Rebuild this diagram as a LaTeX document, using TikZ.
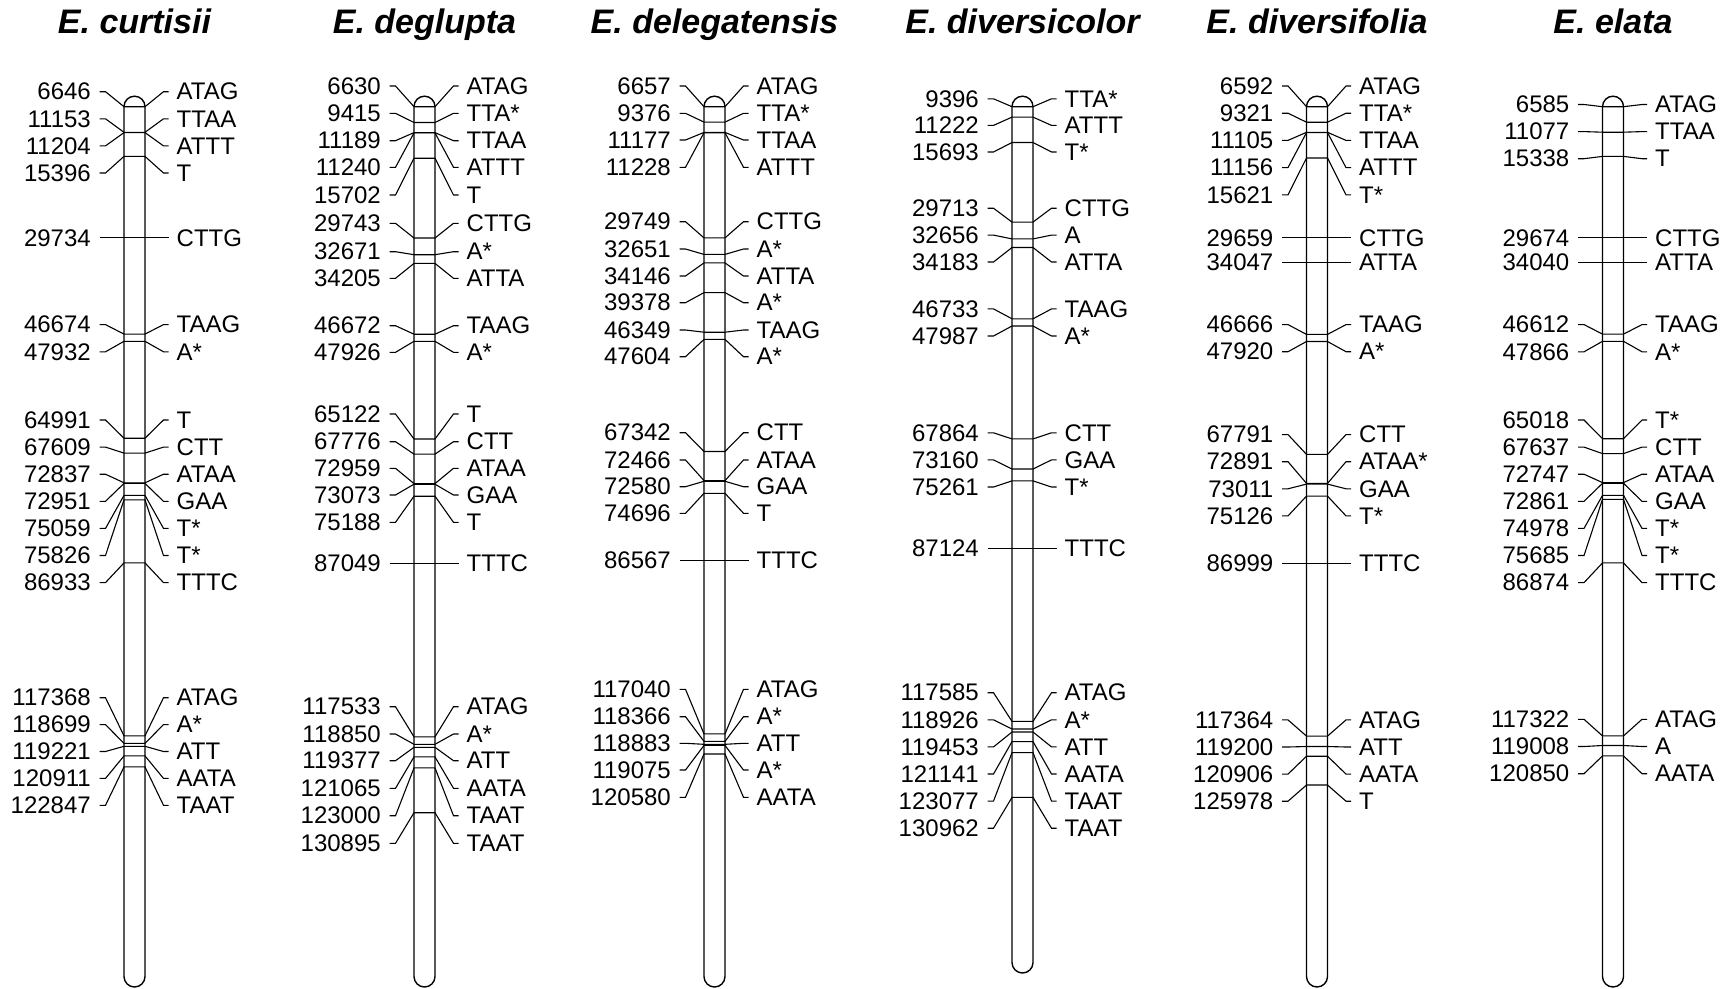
\documentclass[tikz,border=0pt]{standalone}
\usepackage{fontspec}
\setmainfont{Liberation Sans}
\usepackage{xcolor}
\usepackage{tikz}

\begin{document}
\begin{tikzpicture}[x = 1pt,
                    y = -1pt,
                    color = {black}]

  \useasboundingbox (0,0) rectangle (1734,988);

  % STYLES
  \definecolor{edgecolor_chr}{rgb}{ 0,0,0 }
  \tikzstyle{barstyle_chr} = [draw=edgecolor_chr, fill=white, line width=1.4pt, rounded corners=10.5pt]
  \tikzstyle{linkstyle_chr} = [draw=edgecolor_chr, line width=1.1pt, line cap=butt, line join=miter]
  \tikzstyle{numstyle_chr} = [anchor=east, inner sep=0pt, font=\fontsize{24}{24}\selectfont]
  \tikzstyle{genestyle_chr} = [anchor=west, inner sep=0pt, font=\fontsize{24}{24}\selectfont]
  \tikzstyle{titlestyle_chr} = [anchor=base, inner sep=0pt, font=\fontsize{34}{34}\selectfont\bfseries\itshape]


  % BARS
  \draw[barstyle_chr] (124,96.2) rectangle (145,987);
  \draw[barstyle_chr] (414,96.2) rectangle (435,987);
  \draw[barstyle_chr] (704,96.2) rectangle (725,987);
  \draw[barstyle_chr] (1012,96.2) rectangle (1033,973);
  \draw[barstyle_chr] (1306.5,96.2) rectangle (1327.5,987);
  \draw[barstyle_chr] (1602.5,96.2) rectangle (1623.5,987);


  % TITLES
  \node[titlestyle_chr] (t_curtisii) at (134.5,33.5) {E. curtisii};
  \node[titlestyle_chr] (t_deglupta) at (424.5,33.5) {E. deglupta};
  \node[titlestyle_chr] (t_delegatensis) at (714.5,33.5) {E. delegatensis};
  \node[titlestyle_chr] (t_diversicolor) at (1022.5,33.5) {E. diversicolor};
  \node[titlestyle_chr] (t_diversifolia) at (1317,33.5) {E. diversifolia};
  \node[titlestyle_chr] (t_elata) at (1613,33.5) {E. elata};


  % LABELS and LINKS: E. curtisii
  \node[numstyle_chr] (n0_curtisii) at (91,91.7) {6646};
  \node[genestyle_chr] (g0_curtisii) at (176.5,91.7) {ATAG};
  \draw[linkstyle_chr] (n0_curtisii.east) ++(8.5,0) -- ++(6,0) -- (124,106.7) -- (145,106.7) -- ([xshift=-13pt]g0_curtisii.west) -- ([xshift=-8pt]g0_curtisii.west);
  \node[numstyle_chr] (n1_curtisii) at (91,118.8) {11153};
  \node[genestyle_chr] (g1_curtisii) at (176.5,118.8) {TTAA};
  \draw[linkstyle_chr] (n1_curtisii.east) ++(8.5,0) -- ++(6,0) -- (124,132.3) -- (145,132.3) -- ([xshift=-13pt]g1_curtisii.west) -- ([xshift=-8pt]g1_curtisii.west);
  \node[numstyle_chr] (n2_curtisii) at (91,145.9) {11204};
  \node[genestyle_chr] (g2_curtisii) at (176.5,145.9) {ATTT};
  \draw[linkstyle_chr] (n2_curtisii.east) ++(8.5,0) -- ++(6,0) -- (124,132.6) -- (145,132.6) -- ([xshift=-13pt]g2_curtisii.west) -- ([xshift=-8pt]g2_curtisii.west);
  \node[numstyle_chr] (n3_curtisii) at (91,173.0) {15396};
  \node[genestyle_chr] (g3_curtisii) at (176.5,173.0) {T};
  \draw[linkstyle_chr] (n3_curtisii.east) ++(8.5,0) -- ++(6,0) -- (124,156.4) -- (145,156.4) -- ([xshift=-13pt]g3_curtisii.west) -- ([xshift=-8pt]g3_curtisii.west);
  \node[numstyle_chr] (n4_curtisii) at (91,237.9) {29734};
  \node[genestyle_chr] (g4_curtisii) at (176.5,237.9) {CTTG};
  \draw[linkstyle_chr] (n4_curtisii.east) ++(8.5,0) -- ++(6,0) -- (124,237.9) -- (145,237.9) -- ([xshift=-13pt]g4_curtisii.west) -- ([xshift=-8pt]g4_curtisii.west);
  \node[numstyle_chr] (n5_curtisii) at (91,324.6) {46674};
  \node[genestyle_chr] (g5_curtisii) at (176.5,324.6) {TAAG};
  \draw[linkstyle_chr] (n5_curtisii.east) ++(8.5,0) -- ++(6,0) -- (124,334.1) -- (145,334.1) -- ([xshift=-13pt]g5_curtisii.west) -- ([xshift=-8pt]g5_curtisii.west);
  \node[numstyle_chr] (n6_curtisii) at (91,351.8) {47932};
  \node[genestyle_chr] (g6_curtisii) at (176.5,351.8) {A*};
  \draw[linkstyle_chr] (n6_curtisii.east) ++(8.5,0) -- ++(6,0) -- (124,341.3) -- (145,341.3) -- ([xshift=-13pt]g6_curtisii.west) -- ([xshift=-8pt]g6_curtisii.west);
  \node[numstyle_chr] (n7_curtisii) at (91,420.0) {64991};
  \node[genestyle_chr] (g7_curtisii) at (176.5,420.0) {T};
  \draw[linkstyle_chr] (n7_curtisii.east) ++(8.5,0) -- ++(6,0) -- (124,438.2) -- (145,438.2) -- ([xshift=-13pt]g7_curtisii.west) -- ([xshift=-8pt]g7_curtisii.west);
  \node[numstyle_chr] (n8_curtisii) at (91,447.1) {67609};
  \node[genestyle_chr] (g8_curtisii) at (176.5,447.1) {CTT};
  \draw[linkstyle_chr] (n8_curtisii.east) ++(8.5,0) -- ++(6,0) -- (124,453.1) -- (145,453.1) -- ([xshift=-13pt]g8_curtisii.west) -- ([xshift=-8pt]g8_curtisii.west);
  \node[numstyle_chr] (n9_curtisii) at (91,474.2) {72837};
  \node[genestyle_chr] (g9_curtisii) at (176.5,474.2) {ATAA};
  \draw[linkstyle_chr] (n9_curtisii.east) ++(8.5,0) -- ++(6,0) -- (124,482.8) -- (145,482.8) -- ([xshift=-13pt]g9_curtisii.west) -- ([xshift=-8pt]g9_curtisii.west);
  \node[numstyle_chr] (n10_curtisii) at (91,501.3) {72951};
  \node[genestyle_chr] (g10_curtisii) at (176.5,501.3) {GAA};
  \draw[linkstyle_chr] (n10_curtisii.east) ++(8.5,0) -- ++(6,0) -- (124,483.4) -- (145,483.4) -- ([xshift=-13pt]g10_curtisii.west) -- ([xshift=-8pt]g10_curtisii.west);
  \node[numstyle_chr] (n11_curtisii) at (91,528.4) {75059};
  \node[genestyle_chr] (g11_curtisii) at (176.5,528.4) {T*};
  \draw[linkstyle_chr] (n11_curtisii.east) ++(8.5,0) -- ++(6,0) -- (124,495.4) -- (145,495.4) -- ([xshift=-13pt]g11_curtisii.west) -- ([xshift=-8pt]g11_curtisii.west);
  \node[numstyle_chr] (n12_curtisii) at (91,555.5) {75826};
  \node[genestyle_chr] (g12_curtisii) at (176.5,555.5) {T*};
  \draw[linkstyle_chr] (n12_curtisii.east) ++(8.5,0) -- ++(6,0) -- (124,499.8) -- (145,499.8) -- ([xshift=-13pt]g12_curtisii.west) -- ([xshift=-8pt]g12_curtisii.west);
  \node[numstyle_chr] (n13_curtisii) at (91,582.6) {86933};
  \node[genestyle_chr] (g13_curtisii) at (176.5,582.6) {TTTC};
  \draw[linkstyle_chr] (n13_curtisii.east) ++(8.5,0) -- ++(6,0) -- (124,562.9) -- (145,562.9) -- ([xshift=-13pt]g13_curtisii.west) -- ([xshift=-8pt]g13_curtisii.west);
  \node[numstyle_chr] (n14_curtisii) at (91,697.7) {117368};
  \node[genestyle_chr] (g14_curtisii) at (176.5,697.7) {ATAG};
  \draw[linkstyle_chr] (n14_curtisii.east) ++(8.5,0) -- ++(6,0) -- (124,735.8) -- (145,735.8) -- ([xshift=-13pt]g14_curtisii.west) -- ([xshift=-8pt]g14_curtisii.west);
  \node[numstyle_chr] (n15_curtisii) at (91,724.6) {118699};
  \node[genestyle_chr] (g15_curtisii) at (176.5,724.6) {A*};
  \draw[linkstyle_chr] (n15_curtisii.east) ++(8.5,0) -- ++(6,0) -- (124,743.4) -- (145,743.4) -- ([xshift=-13pt]g15_curtisii.west) -- ([xshift=-8pt]g15_curtisii.west);
  \node[numstyle_chr] (n16_curtisii) at (91,751.5) {119221};
  \node[genestyle_chr] (g16_curtisii) at (176.5,751.5) {ATT};
  \draw[linkstyle_chr] (n16_curtisii.east) ++(8.5,0) -- ++(6,0) -- (124,746.3) -- (145,746.3) -- ([xshift=-13pt]g16_curtisii.west) -- ([xshift=-8pt]g16_curtisii.west);
  \node[numstyle_chr] (n17_curtisii) at (91,778.4) {120911};
  \node[genestyle_chr] (g17_curtisii) at (176.5,778.4) {AATA};
  \draw[linkstyle_chr] (n17_curtisii.east) ++(8.5,0) -- ++(6,0) -- (124,755.9) -- (145,755.9) -- ([xshift=-13pt]g17_curtisii.west) -- ([xshift=-8pt]g17_curtisii.west);
  \node[numstyle_chr] (n18_curtisii) at (91,805.3) {122847};
  \node[genestyle_chr] (g18_curtisii) at (176.5,805.3) {TAAT};
  \draw[linkstyle_chr] (n18_curtisii.east) ++(8.5,0) -- ++(6,0) -- (124,766.9) -- (145,766.9) -- ([xshift=-13pt]g18_curtisii.west) -- ([xshift=-8pt]g18_curtisii.west);


  % LABELS and LINKS: E. deglupta
  \node[numstyle_chr] (n0_deglupta) at (381,86.0) {6630};
  \node[genestyle_chr] (g0_deglupta) at (466.5,86.0) {ATAG};
  \draw[linkstyle_chr] (n0_deglupta.east) ++(8.5,0) -- ++(6,0) -- (414,106.7) -- (435,106.7) -- ([xshift=-13pt]g0_deglupta.west) -- ([xshift=-8pt]g0_deglupta.west);
  \node[numstyle_chr] (n1_deglupta) at (381,113.3) {9415};
  \node[genestyle_chr] (g1_deglupta) at (466.5,113.3) {TTA*};
  \draw[linkstyle_chr] (n1_deglupta.east) ++(8.5,0) -- ++(6,0) -- (414,122.5) -- (435,122.5) -- ([xshift=-13pt]g1_deglupta.west) -- ([xshift=-8pt]g1_deglupta.west);
  \node[numstyle_chr] (n2_deglupta) at (381,140.7) {11189};
  \node[genestyle_chr] (g2_deglupta) at (466.5,140.7) {TTAA};
  \draw[linkstyle_chr] (n2_deglupta.east) ++(8.5,0) -- ++(6,0) -- (414,132.6) -- (435,132.6) -- ([xshift=-13pt]g2_deglupta.west) -- ([xshift=-8pt]g2_deglupta.west);
  \node[numstyle_chr] (n3_deglupta) at (381,167.3) {11240};
  \node[genestyle_chr] (g3_deglupta) at (466.5,167.3) {ATTT};
  \draw[linkstyle_chr] (n3_deglupta.east) ++(8.5,0) -- ++(6,0) -- (414,132.9) -- (435,132.9) -- ([xshift=-13pt]g3_deglupta.west) -- ([xshift=-8pt]g3_deglupta.west);
  \node[numstyle_chr] (n4_deglupta) at (381,195.0) {15702};
  \node[genestyle_chr] (g4_deglupta) at (466.5,195.0) {T};
  \draw[linkstyle_chr] (n4_deglupta.east) ++(8.5,0) -- ++(6,0) -- (414,158.2) -- (435,158.2) -- ([xshift=-13pt]g4_deglupta.west) -- ([xshift=-8pt]g4_deglupta.west);
  \node[numstyle_chr] (n5_deglupta) at (381,223.3) {29743};
  \node[genestyle_chr] (g5_deglupta) at (466.5,223.3) {CTTG};
  \draw[linkstyle_chr] (n5_deglupta.east) ++(8.5,0) -- ++(6,0) -- (414,238.0) -- (435,238.0) -- ([xshift=-13pt]g5_deglupta.west) -- ([xshift=-8pt]g5_deglupta.west);
  \node[numstyle_chr] (n6_deglupta) at (381,251.7) {32671};
  \node[genestyle_chr] (g6_deglupta) at (466.5,251.7) {A*};
  \draw[linkstyle_chr] (n6_deglupta.east) ++(8.5,0) -- ++(6,0) -- (414,254.7) -- (435,254.7) -- ([xshift=-13pt]g6_deglupta.west) -- ([xshift=-8pt]g6_deglupta.west);
  \node[numstyle_chr] (n7_deglupta) at (381,278.3) {34205};
  \node[genestyle_chr] (g7_deglupta) at (466.5,278.3) {ATTA};
  \draw[linkstyle_chr] (n7_deglupta.east) ++(8.5,0) -- ++(6,0) -- (414,263.4) -- (435,263.4) -- ([xshift=-13pt]g7_deglupta.west) -- ([xshift=-8pt]g7_deglupta.west);
  \node[numstyle_chr] (n8_deglupta) at (381,325.7) {46672};
  \node[genestyle_chr] (g8_deglupta) at (466.5,325.7) {TAAG};
  \draw[linkstyle_chr] (n8_deglupta.east) ++(8.5,0) -- ++(6,0) -- (414,334.2) -- (435,334.2) -- ([xshift=-13pt]g8_deglupta.west) -- ([xshift=-8pt]g8_deglupta.west);
  \node[numstyle_chr] (n9_deglupta) at (381,352.3) {47926};
  \node[genestyle_chr] (g9_deglupta) at (466.5,352.3) {A*};
  \draw[linkstyle_chr] (n9_deglupta.east) ++(8.5,0) -- ++(6,0) -- (414,341.3) -- (435,341.3) -- ([xshift=-13pt]g9_deglupta.west) -- ([xshift=-8pt]g9_deglupta.west);
  \node[numstyle_chr] (n10_deglupta) at (381,414.0) {65122};
  \node[genestyle_chr] (g10_deglupta) at (466.5,414.0) {T};
  \draw[linkstyle_chr] (n10_deglupta.east) ++(8.5,0) -- ++(6,0) -- (414,439.0) -- (435,439.0) -- ([xshift=-13pt]g10_deglupta.west) -- ([xshift=-8pt]g10_deglupta.west);
  \node[numstyle_chr] (n11_deglupta) at (381,441.7) {67776};
  \node[genestyle_chr] (g11_deglupta) at (466.5,441.7) {CTT};
  \draw[linkstyle_chr] (n11_deglupta.east) ++(8.5,0) -- ++(6,0) -- (414,454.1) -- (435,454.1) -- ([xshift=-13pt]g11_deglupta.west) -- ([xshift=-8pt]g11_deglupta.west);
  \node[numstyle_chr] (n12_deglupta) at (381,468.3) {72959};
  \node[genestyle_chr] (g12_deglupta) at (466.5,468.3) {ATAA};
  \draw[linkstyle_chr] (n12_deglupta.east) ++(8.5,0) -- ++(6,0) -- (414,483.6) -- (435,483.6) -- ([xshift=-13pt]g12_deglupta.west) -- ([xshift=-8pt]g12_deglupta.west);
  \node[numstyle_chr] (n13_deglupta) at (381,495.0) {73073};
  \node[genestyle_chr] (g13_deglupta) at (466.5,495.0) {GAA};
  \draw[linkstyle_chr] (n13_deglupta.east) ++(8.5,0) -- ++(6,0) -- (414,484.2) -- (435,484.2) -- ([xshift=-13pt]g13_deglupta.west) -- ([xshift=-8pt]g13_deglupta.west);
  \node[numstyle_chr] (n14_deglupta) at (381,522.3) {75188};
  \node[genestyle_chr] (g14_deglupta) at (466.5,522.3) {T};
  \draw[linkstyle_chr] (n14_deglupta.east) ++(8.5,0) -- ++(6,0) -- (414,496.2) -- (435,496.2) -- ([xshift=-13pt]g14_deglupta.west) -- ([xshift=-8pt]g14_deglupta.west);
  \node[numstyle_chr] (n15_deglupta) at (381,563.6) {87049};
  \node[genestyle_chr] (g15_deglupta) at (466.5,563.6) {TTTC};
  \draw[linkstyle_chr] (n15_deglupta.east) ++(8.5,0) -- ++(6,0) -- (414,563.6) -- (435,563.6) -- ([xshift=-13pt]g15_deglupta.west) -- ([xshift=-8pt]g15_deglupta.west);
  \node[numstyle_chr] (n16_deglupta) at (381,706.7) {117533};
  \node[genestyle_chr] (g16_deglupta) at (466.5,706.7) {ATAG};
  \draw[linkstyle_chr] (n16_deglupta.east) ++(8.5,0) -- ++(6,0) -- (414,736.8) -- (435,736.8) -- ([xshift=-13pt]g16_deglupta.west) -- ([xshift=-8pt]g16_deglupta.west);
  \node[numstyle_chr] (n17_deglupta) at (381,734.0) {118850};
  \node[genestyle_chr] (g17_deglupta) at (466.5,734.0) {A*};
  \draw[linkstyle_chr] (n17_deglupta.east) ++(8.5,0) -- ++(6,0) -- (414,744.3) -- (435,744.3) -- ([xshift=-13pt]g17_deglupta.west) -- ([xshift=-8pt]g17_deglupta.west);
  \node[numstyle_chr] (n18_deglupta) at (381,760.7) {119377};
  \node[genestyle_chr] (g18_deglupta) at (466.5,760.7) {ATT};
  \draw[linkstyle_chr] (n18_deglupta.east) ++(8.5,0) -- ++(6,0) -- (414,747.3) -- (435,747.3) -- ([xshift=-13pt]g18_deglupta.west) -- ([xshift=-8pt]g18_deglupta.west);
  \node[numstyle_chr] (n19_deglupta) at (381,788.3) {121065};
  \node[genestyle_chr] (g19_deglupta) at (466.5,788.3) {AATA};
  \draw[linkstyle_chr] (n19_deglupta.east) ++(8.5,0) -- ++(6,0) -- (414,756.9) -- (435,756.9) -- ([xshift=-13pt]g19_deglupta.west) -- ([xshift=-8pt]g19_deglupta.west);
  \node[numstyle_chr] (n20_deglupta) at (381,815.7) {123000};
  \node[genestyle_chr] (g20_deglupta) at (466.5,815.7) {TAAT};
  \draw[linkstyle_chr] (n20_deglupta.east) ++(8.5,0) -- ++(6,0) -- (414,767.9) -- (435,767.9) -- ([xshift=-13pt]g20_deglupta.west) -- ([xshift=-8pt]g20_deglupta.west);
  \node[numstyle_chr] (n21_deglupta) at (381,843.3) {130895};
  \node[genestyle_chr] (g21_deglupta) at (466.5,843.3) {TAAT};
  \draw[linkstyle_chr] (n21_deglupta.east) ++(8.5,0) -- ++(6,0) -- (414,812.7) -- (435,812.7) -- ([xshift=-13pt]g21_deglupta.west) -- ([xshift=-8pt]g21_deglupta.west);


  % LABELS and LINKS: E. delegatensis
  \node[numstyle_chr] (n0_delegatensis) at (671,86.0) {6657};
  \node[genestyle_chr] (g0_delegatensis) at (756.5,86.0) {ATAG};
  \draw[linkstyle_chr] (n0_delegatensis.east) ++(8.5,0) -- ++(6,0) -- (704,106.7) -- (725,106.7) -- ([xshift=-13pt]g0_delegatensis.west) -- ([xshift=-8pt]g0_delegatensis.west);
  \node[numstyle_chr] (n1_delegatensis) at (671,113.3) {9376};
  \node[genestyle_chr] (g1_delegatensis) at (756.5,113.3) {TTA*};
  \draw[linkstyle_chr] (n1_delegatensis.east) ++(8.5,0) -- ++(6,0) -- (704,122.1) -- (725,122.1) -- ([xshift=-13pt]g1_delegatensis.west) -- ([xshift=-8pt]g1_delegatensis.west);
  \node[numstyle_chr] (n2_delegatensis) at (671,140.0) {11177};
  \node[genestyle_chr] (g2_delegatensis) at (756.5,140.0) {TTAA};
  \draw[linkstyle_chr] (n2_delegatensis.east) ++(8.5,0) -- ++(6,0) -- (704,132.4) -- (725,132.4) -- ([xshift=-13pt]g2_delegatensis.west) -- ([xshift=-8pt]g2_delegatensis.west);
  \node[numstyle_chr] (n3_delegatensis) at (671,167.3) {11228};
  \node[genestyle_chr] (g3_delegatensis) at (756.5,167.3) {ATTT};
  \draw[linkstyle_chr] (n3_delegatensis.east) ++(8.5,0) -- ++(6,0) -- (704,132.7) -- (725,132.7) -- ([xshift=-13pt]g3_delegatensis.west) -- ([xshift=-8pt]g3_delegatensis.west);
  \node[numstyle_chr] (n4_delegatensis) at (671,221.7) {29749};
  \node[genestyle_chr] (g4_delegatensis) at (756.5,221.7) {CTTG};
  \draw[linkstyle_chr] (n4_delegatensis.east) ++(8.5,0) -- ++(6,0) -- (704,237.9) -- (725,237.9) -- ([xshift=-13pt]g4_delegatensis.west) -- ([xshift=-8pt]g4_delegatensis.west);
  \node[numstyle_chr] (n5_delegatensis) at (671,249.0) {32651};
  \node[genestyle_chr] (g5_delegatensis) at (756.5,249.0) {A*};
  \draw[linkstyle_chr] (n5_delegatensis.east) ++(8.5,0) -- ++(6,0) -- (704,254.4) -- (725,254.4) -- ([xshift=-13pt]g5_delegatensis.west) -- ([xshift=-8pt]g5_delegatensis.west);
  \node[numstyle_chr] (n6_delegatensis) at (671,276.0) {34146};
  \node[genestyle_chr] (g6_delegatensis) at (756.5,276.0) {ATTA};
  \draw[linkstyle_chr] (n6_delegatensis.east) ++(8.5,0) -- ++(6,0) -- (704,262.9) -- (725,262.9) -- ([xshift=-13pt]g6_delegatensis.west) -- ([xshift=-8pt]g6_delegatensis.west);
  \node[numstyle_chr] (n7_delegatensis) at (671,302.7) {39378};
  \node[genestyle_chr] (g7_delegatensis) at (756.5,302.7) {A*};
  \draw[linkstyle_chr] (n7_delegatensis.east) ++(8.5,0) -- ++(6,0) -- (704,292.6) -- (725,292.6) -- ([xshift=-13pt]g7_delegatensis.west) -- ([xshift=-8pt]g7_delegatensis.west);
  \node[numstyle_chr] (n8_delegatensis) at (671,330.0) {46349};
  \node[genestyle_chr] (g8_delegatensis) at (756.5,330.0) {TAAG};
  \draw[linkstyle_chr] (n8_delegatensis.east) ++(8.5,0) -- ++(6,0) -- (704,332.2) -- (725,332.2) -- ([xshift=-13pt]g8_delegatensis.west) -- ([xshift=-8pt]g8_delegatensis.west);
  \node[numstyle_chr] (n9_delegatensis) at (671,356.7) {47604};
  \node[genestyle_chr] (g9_delegatensis) at (756.5,356.7) {A*};
  \draw[linkstyle_chr] (n9_delegatensis.east) ++(8.5,0) -- ++(6,0) -- (704,339.4) -- (725,339.4) -- ([xshift=-13pt]g9_delegatensis.west) -- ([xshift=-8pt]g9_delegatensis.west);
  \node[numstyle_chr] (n10_delegatensis) at (671,432.7) {67342};
  \node[genestyle_chr] (g10_delegatensis) at (756.5,432.7) {CTT};
  \draw[linkstyle_chr] (n10_delegatensis.east) ++(8.5,0) -- ++(6,0) -- (704,451.5) -- (725,451.5) -- ([xshift=-13pt]g10_delegatensis.west) -- ([xshift=-8pt]g10_delegatensis.west);
  \node[numstyle_chr] (n11_delegatensis) at (671,460.0) {72466};
  \node[genestyle_chr] (g11_delegatensis) at (756.5,460.0) {ATAA};
  \draw[linkstyle_chr] (n11_delegatensis.east) ++(8.5,0) -- ++(6,0) -- (704,480.6) -- (725,480.6) -- ([xshift=-13pt]g11_delegatensis.west) -- ([xshift=-8pt]g11_delegatensis.west);
  \node[numstyle_chr] (n12_delegatensis) at (671,486.7) {72580};
  \node[genestyle_chr] (g12_delegatensis) at (756.5,486.7) {GAA};
  \draw[linkstyle_chr] (n12_delegatensis.east) ++(8.5,0) -- ++(6,0) -- (704,481.3) -- (725,481.3) -- ([xshift=-13pt]g12_delegatensis.west) -- ([xshift=-8pt]g12_delegatensis.west);
  \node[numstyle_chr] (n13_delegatensis) at (671,513.3) {74696};
  \node[genestyle_chr] (g13_delegatensis) at (756.5,513.3) {T};
  \draw[linkstyle_chr] (n13_delegatensis.east) ++(8.5,0) -- ++(6,0) -- (704,493.3) -- (725,493.3) -- ([xshift=-13pt]g13_delegatensis.west) -- ([xshift=-8pt]g13_delegatensis.west);
  \node[numstyle_chr] (n14_delegatensis) at (671,560.7) {86567};
  \node[genestyle_chr] (g14_delegatensis) at (756.5,560.7) {TTTC};
  \draw[linkstyle_chr] (n14_delegatensis.east) ++(8.5,0) -- ++(6,0) -- (704,560.7) -- (725,560.7) -- ([xshift=-13pt]g14_delegatensis.west) -- ([xshift=-8pt]g14_delegatensis.west);
  \node[numstyle_chr] (n15_delegatensis) at (671,689.3) {117040};
  \node[genestyle_chr] (g15_delegatensis) at (756.5,689.3) {ATAG};
  \draw[linkstyle_chr] (n15_delegatensis.east) ++(8.5,0) -- ++(6,0) -- (704,733.9) -- (725,733.9) -- ([xshift=-13pt]g15_delegatensis.west) -- ([xshift=-8pt]g15_delegatensis.west);
  \node[numstyle_chr] (n16_delegatensis) at (671,716.7) {118366};
  \node[genestyle_chr] (g16_delegatensis) at (756.5,716.7) {A*};
  \draw[linkstyle_chr] (n16_delegatensis.east) ++(8.5,0) -- ++(6,0) -- (704,741.4) -- (725,741.4) -- ([xshift=-13pt]g16_delegatensis.west) -- ([xshift=-8pt]g16_delegatensis.west);
  \node[numstyle_chr] (n17_delegatensis) at (671,743.3) {118883};
  \node[genestyle_chr] (g17_delegatensis) at (756.5,743.3) {ATT};
  \draw[linkstyle_chr] (n17_delegatensis.east) ++(8.5,0) -- ++(6,0) -- (704,744.3) -- (725,744.3) -- ([xshift=-13pt]g17_delegatensis.west) -- ([xshift=-8pt]g17_delegatensis.west);
  \node[numstyle_chr] (n18_delegatensis) at (671,770.0) {119075};
  \node[genestyle_chr] (g18_delegatensis) at (756.5,770.0) {A*};
  \draw[linkstyle_chr] (n18_delegatensis.east) ++(8.5,0) -- ++(6,0) -- (704,745.4) -- (725,745.4) -- ([xshift=-13pt]g18_delegatensis.west) -- ([xshift=-8pt]g18_delegatensis.west);
  \node[numstyle_chr] (n19_delegatensis) at (671,797.3) {120580};
  \node[genestyle_chr] (g19_delegatensis) at (756.5,797.3) {AATA};
  \draw[linkstyle_chr] (n19_delegatensis.east) ++(8.5,0) -- ++(6,0) -- (704,754.0) -- (725,754.0) -- ([xshift=-13pt]g19_delegatensis.west) -- ([xshift=-8pt]g19_delegatensis.west);


  % LABELS and LINKS: E. diversicolor
  \node[numstyle_chr] (n0_diversicolor) at (979,98.8) {9396};
  \node[genestyle_chr] (g0_diversicolor) at (1064.5,98.8) {TTA*};
  \draw[linkstyle_chr] (n0_diversicolor.east) ++(8.5,0) -- ++(6,0) -- (1012,106.7) -- (1033,106.7) -- ([xshift=-13pt]g0_diversicolor.west) -- ([xshift=-8pt]g0_diversicolor.west);
  \node[numstyle_chr] (n1_diversicolor) at (979,125.4) {11222};
  \node[genestyle_chr] (g1_diversicolor) at (1064.5,125.4) {ATTT};
  \draw[linkstyle_chr] (n1_diversicolor.east) ++(8.5,0) -- ++(6,0) -- (1012,117.1) -- (1033,117.1) -- ([xshift=-13pt]g1_diversicolor.west) -- ([xshift=-8pt]g1_diversicolor.west);
  \node[numstyle_chr] (n2_diversicolor) at (979,152.0) {15693};
  \node[genestyle_chr] (g2_diversicolor) at (1064.5,152.0) {T*};
  \draw[linkstyle_chr] (n2_diversicolor.east) ++(8.5,0) -- ++(6,0) -- (1012,142.5) -- (1033,142.5) -- ([xshift=-13pt]g2_diversicolor.west) -- ([xshift=-8pt]g2_diversicolor.west);
  \node[numstyle_chr] (n3_diversicolor) at (979,208.2) {29713};
  \node[genestyle_chr] (g3_diversicolor) at (1064.5,208.2) {CTTG};
  \draw[linkstyle_chr] (n3_diversicolor.east) ++(8.5,0) -- ++(6,0) -- (1012,222.1) -- (1033,222.1) -- ([xshift=-13pt]g3_diversicolor.west) -- ([xshift=-8pt]g3_diversicolor.west);
  \node[numstyle_chr] (n4_diversicolor) at (979,235.1) {32656};
  \node[genestyle_chr] (g4_diversicolor) at (1064.5,235.1) {A};
  \draw[linkstyle_chr] (n4_diversicolor.east) ++(8.5,0) -- ++(6,0) -- (1012,238.9) -- (1033,238.9) -- ([xshift=-13pt]g4_diversicolor.west) -- ([xshift=-8pt]g4_diversicolor.west);
  \node[numstyle_chr] (n5_diversicolor) at (979,262.0) {34183};
  \node[genestyle_chr] (g5_diversicolor) at (1064.5,262.0) {ATTA};
  \draw[linkstyle_chr] (n5_diversicolor.east) ++(8.5,0) -- ++(6,0) -- (1012,247.5) -- (1033,247.5) -- ([xshift=-13pt]g5_diversicolor.west) -- ([xshift=-8pt]g5_diversicolor.west);
  \node[numstyle_chr] (n6_diversicolor) at (979,308.9) {46733};
  \node[genestyle_chr] (g6_diversicolor) at (1064.5,308.9) {TAAG};
  \draw[linkstyle_chr] (n6_diversicolor.east) ++(8.5,0) -- ++(6,0) -- (1012,318.8) -- (1033,318.8) -- ([xshift=-13pt]g6_diversicolor.west) -- ([xshift=-8pt]g6_diversicolor.west);
  \node[numstyle_chr] (n7_diversicolor) at (979,336.0) {47987};
  \node[genestyle_chr] (g7_diversicolor) at (1064.5,336.0) {A*};
  \draw[linkstyle_chr] (n7_diversicolor.east) ++(8.5,0) -- ++(6,0) -- (1012,326.0) -- (1033,326.0) -- ([xshift=-13pt]g7_diversicolor.west) -- ([xshift=-8pt]g7_diversicolor.west);
  \node[numstyle_chr] (n8_diversicolor) at (979,432.8) {67864};
  \node[genestyle_chr] (g8_diversicolor) at (1064.5,432.8) {CTT};
  \draw[linkstyle_chr] (n8_diversicolor.east) ++(8.5,0) -- ++(6,0) -- (1012,438.9) -- (1033,438.9) -- ([xshift=-13pt]g8_diversicolor.west) -- ([xshift=-8pt]g8_diversicolor.west);
  \node[numstyle_chr] (n9_diversicolor) at (979,459.9) {73160};
  \node[genestyle_chr] (g9_diversicolor) at (1064.5,459.9) {GAA};
  \draw[linkstyle_chr] (n9_diversicolor.east) ++(8.5,0) -- ++(6,0) -- (1012,469.0) -- (1033,469.0) -- ([xshift=-13pt]g9_diversicolor.west) -- ([xshift=-8pt]g9_diversicolor.west);
  \node[numstyle_chr] (n10_diversicolor) at (979,487.0) {75261};
  \node[genestyle_chr] (g10_diversicolor) at (1064.5,487.0) {T*};
  \draw[linkstyle_chr] (n10_diversicolor.east) ++(8.5,0) -- ++(6,0) -- (1012,480.9) -- (1033,480.9) -- ([xshift=-13pt]g10_diversicolor.west) -- ([xshift=-8pt]g10_diversicolor.west);
  \node[numstyle_chr] (n11_diversicolor) at (979,548.3) {87124};
  \node[genestyle_chr] (g11_diversicolor) at (1064.5,548.3) {TTTC};
  \draw[linkstyle_chr] (n11_diversicolor.east) ++(8.5,0) -- ++(6,0) -- (1012,548.3) -- (1033,548.3) -- ([xshift=-13pt]g11_diversicolor.west) -- ([xshift=-8pt]g11_diversicolor.west);
  \node[numstyle_chr] (n12_diversicolor) at (979,692.7) {117585};
  \node[genestyle_chr] (g12_diversicolor) at (1064.5,692.7) {ATAG};
  \draw[linkstyle_chr] (n12_diversicolor.east) ++(8.5,0) -- ++(6,0) -- (1012,721.4) -- (1033,721.4) -- ([xshift=-13pt]g12_diversicolor.west) -- ([xshift=-8pt]g12_diversicolor.west);
  \node[numstyle_chr] (n13_diversicolor) at (979,719.8) {118926};
  \node[genestyle_chr] (g13_diversicolor) at (1064.5,719.8) {A*};
  \draw[linkstyle_chr] (n13_diversicolor.east) ++(8.5,0) -- ++(6,0) -- (1012,729.0) -- (1033,729.0) -- ([xshift=-13pt]g13_diversicolor.west) -- ([xshift=-8pt]g13_diversicolor.west);
  \node[numstyle_chr] (n14_diversicolor) at (979,746.9) {119453};
  \node[genestyle_chr] (g14_diversicolor) at (1064.5,746.9) {ATT};
  \draw[linkstyle_chr] (n14_diversicolor.east) ++(8.5,0) -- ++(6,0) -- (1012,732.0) -- (1033,732.0) -- ([xshift=-13pt]g14_diversicolor.west) -- ([xshift=-8pt]g14_diversicolor.west);
  \node[numstyle_chr] (n15_diversicolor) at (979,774.0) {121141};
  \node[genestyle_chr] (g15_diversicolor) at (1064.5,774.0) {AATA};
  \draw[linkstyle_chr] (n15_diversicolor.east) ++(8.5,0) -- ++(6,0) -- (1012,741.6) -- (1033,741.6) -- ([xshift=-13pt]g15_diversicolor.west) -- ([xshift=-8pt]g15_diversicolor.west);
  \node[numstyle_chr] (n16_diversicolor) at (979,801.1) {123077};
  \node[genestyle_chr] (g16_diversicolor) at (1064.5,801.1) {TAAT};
  \draw[linkstyle_chr] (n16_diversicolor.east) ++(8.5,0) -- ++(6,0) -- (1012,752.6) -- (1033,752.6) -- ([xshift=-13pt]g16_diversicolor.west) -- ([xshift=-8pt]g16_diversicolor.west);
  \node[numstyle_chr] (n17_diversicolor) at (979,828.2) {130962};
  \node[genestyle_chr] (g17_diversicolor) at (1064.5,828.2) {TAAT};
  \draw[linkstyle_chr] (n17_diversicolor.east) ++(8.5,0) -- ++(6,0) -- (1012,797.4) -- (1033,797.4) -- ([xshift=-13pt]g17_diversicolor.west) -- ([xshift=-8pt]g17_diversicolor.west);


  % LABELS and LINKS: E. diversifolia
  \node[numstyle_chr] (n0_diversifolia) at (1273.5,86.0) {6592};
  \node[genestyle_chr] (g0_diversifolia) at (1359,86.0) {ATAG};
  \draw[linkstyle_chr] (n0_diversifolia.east) ++(8.5,0) -- ++(6,0) -- (1306.5,106.7) -- (1327.5,106.7) -- ([xshift=-13pt]g0_diversifolia.west) -- ([xshift=-8pt]g0_diversifolia.west);
  \node[numstyle_chr] (n1_diversifolia) at (1273.5,113.2) {9321};
  \node[genestyle_chr] (g1_diversifolia) at (1359,113.2) {TTA*};
  \draw[linkstyle_chr] (n1_diversifolia.east) ++(8.5,0) -- ++(6,0) -- (1306.5,122.2) -- (1327.5,122.2) -- ([xshift=-13pt]g1_diversifolia.west) -- ([xshift=-8pt]g1_diversifolia.west);
  \node[numstyle_chr] (n2_diversifolia) at (1273.5,140.4) {11105};
  \node[genestyle_chr] (g2_diversifolia) at (1359,140.4) {TTAA};
  \draw[linkstyle_chr] (n2_diversifolia.east) ++(8.5,0) -- ++(6,0) -- (1306.5,132.3) -- (1327.5,132.3) -- ([xshift=-13pt]g2_diversifolia.west) -- ([xshift=-8pt]g2_diversifolia.west);
  \node[numstyle_chr] (n3_diversifolia) at (1273.5,167.6) {11156};
  \node[genestyle_chr] (g3_diversifolia) at (1359,167.6) {ATTT};
  \draw[linkstyle_chr] (n3_diversifolia.east) ++(8.5,0) -- ++(6,0) -- (1306.5,132.6) -- (1327.5,132.6) -- ([xshift=-13pt]g3_diversifolia.west) -- ([xshift=-8pt]g3_diversifolia.west);
  \node[numstyle_chr] (n4_diversifolia) at (1273.5,194.8) {15621};
  \node[genestyle_chr] (g4_diversifolia) at (1359,194.8) {T*};
  \draw[linkstyle_chr] (n4_diversifolia.east) ++(8.5,0) -- ++(6,0) -- (1306.5,158.0) -- (1327.5,158.0) -- ([xshift=-13pt]g4_diversifolia.west) -- ([xshift=-8pt]g4_diversifolia.west);
  \node[numstyle_chr] (n5_diversifolia) at (1273.5,237.8) {29659};
  \node[genestyle_chr] (g5_diversifolia) at (1359,237.8) {CTTG};
  \draw[linkstyle_chr] (n5_diversifolia.east) ++(8.5,0) -- ++(6,0) -- (1306.5,237.8) -- (1327.5,237.8) -- ([xshift=-13pt]g5_diversifolia.west) -- ([xshift=-8pt]g5_diversifolia.west);
  \node[numstyle_chr] (n6_diversifolia) at (1273.5,262.7) {34047};
  \node[genestyle_chr] (g6_diversifolia) at (1359,262.7) {ATTA};
  \draw[linkstyle_chr] (n6_diversifolia.east) ++(8.5,0) -- ++(6,0) -- (1306.5,262.7) -- (1327.5,262.7) -- ([xshift=-13pt]g6_diversifolia.west) -- ([xshift=-8pt]g6_diversifolia.west);
  \node[numstyle_chr] (n7_diversifolia) at (1273.5,324.6) {46666};
  \node[genestyle_chr] (g7_diversifolia) at (1359,324.6) {TAAG};
  \draw[linkstyle_chr] (n7_diversifolia.east) ++(8.5,0) -- ++(6,0) -- (1306.5,334.4) -- (1327.5,334.4) -- ([xshift=-13pt]g7_diversifolia.west) -- ([xshift=-8pt]g7_diversifolia.west);
  \node[numstyle_chr] (n8_diversifolia) at (1273.5,351.7) {47920};
  \node[genestyle_chr] (g8_diversifolia) at (1359,351.7) {A*};
  \draw[linkstyle_chr] (n8_diversifolia.east) ++(8.5,0) -- ++(6,0) -- (1306.5,341.5) -- (1327.5,341.5) -- ([xshift=-13pt]g8_diversifolia.west) -- ([xshift=-8pt]g8_diversifolia.west);
  \node[numstyle_chr] (n9_diversifolia) at (1273.5,434.6) {67791};
  \node[genestyle_chr] (g9_diversifolia) at (1359,434.6) {CTT};
  \draw[linkstyle_chr] (n9_diversifolia.east) ++(8.5,0) -- ++(6,0) -- (1306.5,454.4) -- (1327.5,454.4) -- ([xshift=-13pt]g9_diversifolia.west) -- ([xshift=-8pt]g9_diversifolia.west);
  \node[numstyle_chr] (n10_diversifolia) at (1273.5,461.7) {72891};
  \node[genestyle_chr] (g10_diversifolia) at (1359,461.7) {ATAA*};
  \draw[linkstyle_chr] (n10_diversifolia.east) ++(8.5,0) -- ++(6,0) -- (1306.5,483.4) -- (1327.5,483.4) -- ([xshift=-13pt]g10_diversifolia.west) -- ([xshift=-8pt]g10_diversifolia.west);
  \node[numstyle_chr] (n11_diversifolia) at (1273.5,488.8) {73011};
  \node[genestyle_chr] (g11_diversifolia) at (1359,488.8) {GAA};
  \draw[linkstyle_chr] (n11_diversifolia.east) ++(8.5,0) -- ++(6,0) -- (1306.5,484.1) -- (1327.5,484.1) -- ([xshift=-13pt]g11_diversifolia.west) -- ([xshift=-8pt]g11_diversifolia.west);
  \node[numstyle_chr] (n12_diversifolia) at (1273.5,515.9) {75126};
  \node[genestyle_chr] (g12_diversifolia) at (1359,515.9) {T*};
  \draw[linkstyle_chr] (n12_diversifolia.east) ++(8.5,0) -- ++(6,0) -- (1306.5,496.1) -- (1327.5,496.1) -- ([xshift=-13pt]g12_diversifolia.west) -- ([xshift=-8pt]g12_diversifolia.west);
  \node[numstyle_chr] (n13_diversifolia) at (1273.5,563.6) {86999};
  \node[genestyle_chr] (g13_diversifolia) at (1359,563.6) {TTTC};
  \draw[linkstyle_chr] (n13_diversifolia.east) ++(8.5,0) -- ++(6,0) -- (1306.5,563.6) -- (1327.5,563.6) -- ([xshift=-13pt]g13_diversifolia.west) -- ([xshift=-8pt]g13_diversifolia.west);
  \node[numstyle_chr] (n14_diversifolia) at (1273.5,719.9) {117364};
  \node[genestyle_chr] (g14_diversifolia) at (1359,719.9) {ATAG};
  \draw[linkstyle_chr] (n14_diversifolia.east) ++(8.5,0) -- ++(6,0) -- (1306.5,736.1) -- (1327.5,736.1) -- ([xshift=-13pt]g14_diversifolia.west) -- ([xshift=-8pt]g14_diversifolia.west);
  \node[numstyle_chr] (n15_diversifolia) at (1273.5,747.0) {119200};
  \node[genestyle_chr] (g15_diversifolia) at (1359,747.0) {ATT};
  \draw[linkstyle_chr] (n15_diversifolia.east) ++(8.5,0) -- ++(6,0) -- (1306.5,746.5) -- (1327.5,746.5) -- ([xshift=-13pt]g15_diversifolia.west) -- ([xshift=-8pt]g15_diversifolia.west);
  \node[numstyle_chr] (n16_diversifolia) at (1273.5,774.1) {120906};
  \node[genestyle_chr] (g16_diversifolia) at (1359,774.1) {AATA};
  \draw[linkstyle_chr] (n16_diversifolia.east) ++(8.5,0) -- ++(6,0) -- (1306.5,756.2) -- (1327.5,756.2) -- ([xshift=-13pt]g16_diversifolia.west) -- ([xshift=-8pt]g16_diversifolia.west);
  \node[numstyle_chr] (n17_diversifolia) at (1273.5,801.2) {125978};
  \node[genestyle_chr] (g17_diversifolia) at (1359,801.2) {T};
  \draw[linkstyle_chr] (n17_diversifolia.east) ++(8.5,0) -- ++(6,0) -- (1306.5,785.0) -- (1327.5,785.0) -- ([xshift=-13pt]g17_diversifolia.west) -- ([xshift=-8pt]g17_diversifolia.west);


  % LABELS and LINKS: E. elata
  \node[numstyle_chr] (n0_elata) at (1569.5,104.5) {6585};
  \node[genestyle_chr] (g0_elata) at (1655,104.5) {ATAG};
  \draw[linkstyle_chr] (n0_elata.east) ++(8.5,0) -- ++(6,0) -- (1602.5,106.7) -- (1623.5,106.7) -- ([xshift=-13pt]g0_elata.west) -- ([xshift=-8pt]g0_elata.west);
  \node[numstyle_chr] (n1_elata) at (1569.5,131.6) {11077};
  \node[genestyle_chr] (g1_elata) at (1655,131.6) {TTAA};
  \draw[linkstyle_chr] (n1_elata.east) ++(8.5,0) -- ++(6,0) -- (1602.5,132.2) -- (1623.5,132.2) -- ([xshift=-13pt]g1_elata.west) -- ([xshift=-8pt]g1_elata.west);
  \node[numstyle_chr] (n2_elata) at (1569.5,158.7) {15338};
  \node[genestyle_chr] (g2_elata) at (1655,158.7) {T};
  \draw[linkstyle_chr] (n2_elata.east) ++(8.5,0) -- ++(6,0) -- (1602.5,156.4) -- (1623.5,156.4) -- ([xshift=-13pt]g2_elata.west) -- ([xshift=-8pt]g2_elata.west);
  \node[numstyle_chr] (n3_elata) at (1569.5,237.9) {29674};
  \node[genestyle_chr] (g3_elata) at (1655,237.9) {CTTG};
  \draw[linkstyle_chr] (n3_elata.east) ++(8.5,0) -- ++(6,0) -- (1602.5,237.9) -- (1623.5,237.9) -- ([xshift=-13pt]g3_elata.west) -- ([xshift=-8pt]g3_elata.west);
  \node[numstyle_chr] (n4_elata) at (1569.5,262.7) {34040};
  \node[genestyle_chr] (g4_elata) at (1655,262.7) {ATTA};
  \draw[linkstyle_chr] (n4_elata.east) ++(8.5,0) -- ++(6,0) -- (1602.5,262.7) -- (1623.5,262.7) -- ([xshift=-13pt]g4_elata.west) -- ([xshift=-8pt]g4_elata.west);
  \node[numstyle_chr] (n5_elata) at (1569.5,324.6) {46612};
  \node[genestyle_chr] (g5_elata) at (1655,324.6) {TAAG};
  \draw[linkstyle_chr] (n5_elata.east) ++(8.5,0) -- ++(6,0) -- (1602.5,334.1) -- (1623.5,334.1) -- ([xshift=-13pt]g5_elata.west) -- ([xshift=-8pt]g5_elata.west);
  \node[numstyle_chr] (n6_elata) at (1569.5,351.8) {47866};
  \node[genestyle_chr] (g6_elata) at (1655,351.8) {A*};
  \draw[linkstyle_chr] (n6_elata.east) ++(8.5,0) -- ++(6,0) -- (1602.5,341.3) -- (1623.5,341.3) -- ([xshift=-13pt]g6_elata.west) -- ([xshift=-8pt]g6_elata.west);
  \node[numstyle_chr] (n7_elata) at (1569.5,420.0) {65018};
  \node[genestyle_chr] (g7_elata) at (1655,420.0) {T*};
  \draw[linkstyle_chr] (n7_elata.east) ++(8.5,0) -- ++(6,0) -- (1602.5,438.7) -- (1623.5,438.7) -- ([xshift=-13pt]g7_elata.west) -- ([xshift=-8pt]g7_elata.west);
  \node[numstyle_chr] (n8_elata) at (1569.5,447.1) {67637};
  \node[genestyle_chr] (g8_elata) at (1655,447.1) {CTT};
  \draw[linkstyle_chr] (n8_elata.east) ++(8.5,0) -- ++(6,0) -- (1602.5,453.6) -- (1623.5,453.6) -- ([xshift=-13pt]g8_elata.west) -- ([xshift=-8pt]g8_elata.west);
  \node[numstyle_chr] (n9_elata) at (1569.5,474.2) {72747};
  \node[genestyle_chr] (g9_elata) at (1655,474.2) {ATAA};
  \draw[linkstyle_chr] (n9_elata.east) ++(8.5,0) -- ++(6,0) -- (1602.5,482.6) -- (1623.5,482.6) -- ([xshift=-13pt]g9_elata.west) -- ([xshift=-8pt]g9_elata.west);
  \node[numstyle_chr] (n10_elata) at (1569.5,501.3) {72861};
  \node[genestyle_chr] (g10_elata) at (1655,501.3) {GAA};
  \draw[linkstyle_chr] (n10_elata.east) ++(8.5,0) -- ++(6,0) -- (1602.5,483.3) -- (1623.5,483.3) -- ([xshift=-13pt]g10_elata.west) -- ([xshift=-8pt]g10_elata.west);
  \node[numstyle_chr] (n11_elata) at (1569.5,528.4) {74978};
  \node[genestyle_chr] (g11_elata) at (1655,528.4) {T*};
  \draw[linkstyle_chr] (n11_elata.east) ++(8.5,0) -- ++(6,0) -- (1602.5,495.3) -- (1623.5,495.3) -- ([xshift=-13pt]g11_elata.west) -- ([xshift=-8pt]g11_elata.west);
  \node[numstyle_chr] (n12_elata) at (1569.5,555.5) {75685};
  \node[genestyle_chr] (g12_elata) at (1655,555.5) {T*};
  \draw[linkstyle_chr] (n12_elata.east) ++(8.5,0) -- ++(6,0) -- (1602.5,499.3) -- (1623.5,499.3) -- ([xshift=-13pt]g12_elata.west) -- ([xshift=-8pt]g12_elata.west);
  \node[numstyle_chr] (n13_elata) at (1569.5,582.6) {86874};
  \node[genestyle_chr] (g13_elata) at (1655,582.6) {TTTC};
  \draw[linkstyle_chr] (n13_elata.east) ++(8.5,0) -- ++(6,0) -- (1602.5,562.9) -- (1623.5,562.9) -- ([xshift=-13pt]g13_elata.west) -- ([xshift=-8pt]g13_elata.west);
  \node[numstyle_chr] (n14_elata) at (1569.5,719.3) {117322};
  \node[genestyle_chr] (g14_elata) at (1655,719.3) {ATAG};
  \draw[linkstyle_chr] (n14_elata.east) ++(8.5,0) -- ++(6,0) -- (1602.5,735.9) -- (1623.5,735.9) -- ([xshift=-13pt]g14_elata.west) -- ([xshift=-8pt]g14_elata.west);
  \node[numstyle_chr] (n15_elata) at (1569.5,746.5) {119008};
  \node[genestyle_chr] (g15_elata) at (1655,746.5) {A};
  \draw[linkstyle_chr] (n15_elata.east) ++(8.5,0) -- ++(6,0) -- (1602.5,745.5) -- (1623.5,745.5) -- ([xshift=-13pt]g15_elata.west) -- ([xshift=-8pt]g15_elata.west);
  \node[numstyle_chr] (n16_elata) at (1569.5,773.7) {120850};
  \node[genestyle_chr] (g16_elata) at (1655,773.7) {AATA};
  \draw[linkstyle_chr] (n16_elata.east) ++(8.5,0) -- ++(6,0) -- (1602.5,755.9) -- (1623.5,755.9) -- ([xshift=-13pt]g16_elata.west) -- ([xshift=-8pt]g16_elata.west);

\end{tikzpicture}
\end{document}
